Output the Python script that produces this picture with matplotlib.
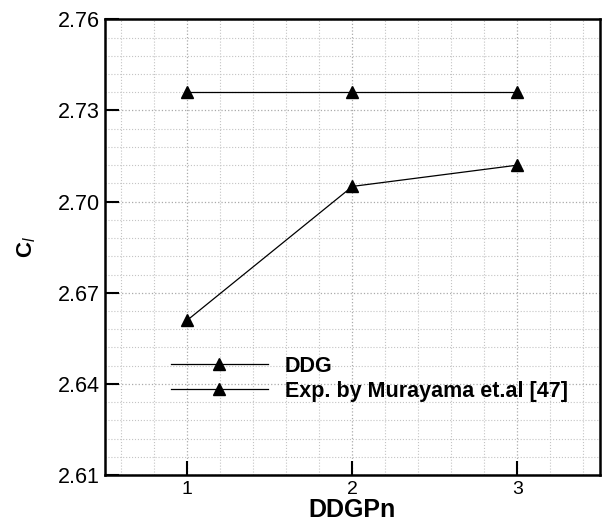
import numpy as np
import matplotlib
matplotlib.use("Agg")
import matplotlib.pyplot as plt
from matplotlib.ticker import MultipleLocator

plt.rcParams['font.family'] = ['Liberation Sans', 'DejaVu Sans']
plt.rcParams['mathtext.fontset'] = 'custom'
plt.rcParams['mathtext.rm'] = 'Liberation Sans'
plt.rcParams['mathtext.it'] = 'Liberation Sans:italic'
plt.rcParams['mathtext.bf'] = 'Liberation Sans:bold'

# порядок DDGP и коэффициент подъёмной силы
order = np.array([1, 2, 3])
cl_ddg = np.array([2.661, 2.705, 2.712])
cl_exp = np.array([2.736, 2.736, 2.736])

fig = plt.figure(figsize=(6.03, 5.22), dpi=100)
ax = fig.add_axes([0.174, 0.09, 0.821, 0.873])

ax.plot(order, cl_ddg, color='black', lw=0.9, marker='^', ms=9, label='DDG')
ax.plot(order, cl_exp, color='black', lw=0.9, marker='^', ms=9,
        label='Exp. by Murayama et.al [47]')

ax.set_xlim(0.5, 3.5)
ax.set_ylim(2.61, 2.76)
ax.xaxis.set_major_locator(MultipleLocator(1))
ax.xaxis.set_minor_locator(MultipleLocator(0.2))
ax.yaxis.set_major_locator(MultipleLocator(0.03))
ax.yaxis.set_minor_locator(MultipleLocator(0.006))
ax.yaxis.set_major_formatter(plt.FormatStrFormatter('%.2f'))

ax.tick_params(which='major', direction='in', length=10, width=1.5,
               labelsize=15.5, top=False, right=False)
ax.tick_params(axis='x', pad=4, labelsize=14)
ax.tick_params(which='minor', length=0)
ax.grid(which='major', color='#aaaaaa', linestyle=':', lw=0.9)
ax.grid(which='minor', color='#c4c4c4', linestyle=':', lw=0.8)
for s in ax.spines.values():
    s.set_linewidth(1.8)

ax.set_xlabel('DDGPn', fontsize=18, fontweight='bold', labelpad=0)
ax.set_ylabel(r'$\mathbf{C}_\mathit{l}$', fontsize=16, labelpad=14)

ax.legend(loc='center left', bbox_to_anchor=(0.133, 0.211), frameon=False,
          borderpad=0, borderaxespad=0, handlelength=4.5, handletextpad=0.8,
          labelspacing=0.2, prop={'size': 15.5, 'weight': 'bold'})

fig.savefig('out.png', dpi=100)
